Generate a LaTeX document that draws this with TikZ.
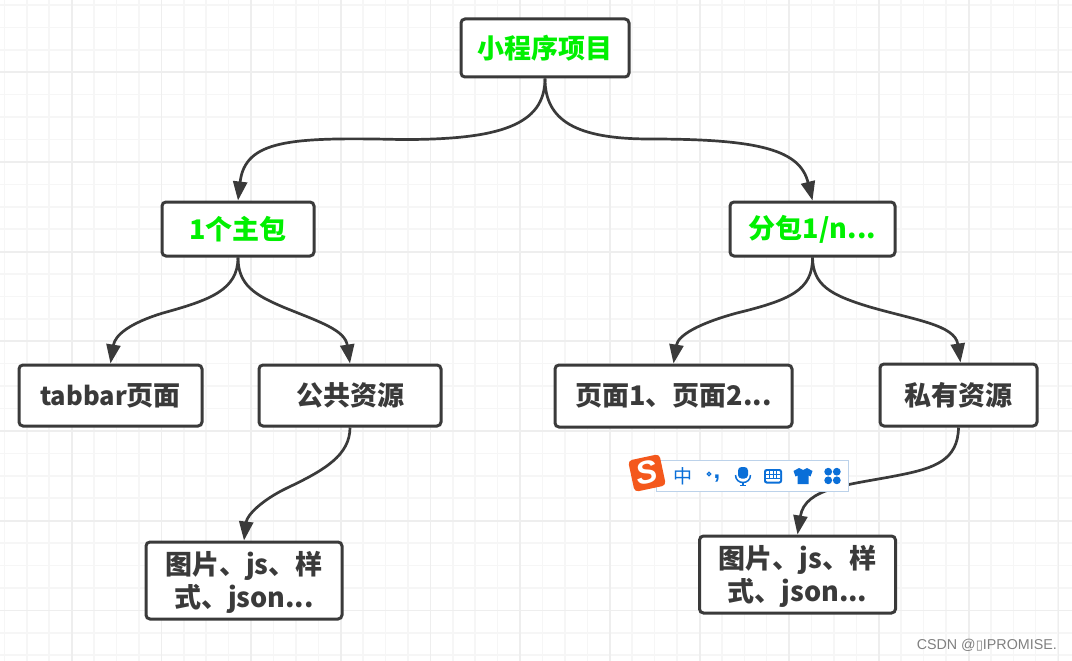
\documentclass[tikz,border=0pt]{standalone}
\usepackage{fontspec}
\usepackage{tikz}
\usetikzlibrary{arrows.meta}
\newfontfamily\cjk{Noto Sans CJK SC}
\newfontfamily\markfont{Liberation Sans}
\newfontfamily\symfont{DejaVu Sans}
\definecolor{inkgray}{HTML}{3A3A3A}
\definecolor{keygreen}{HTML}{00F000}
\definecolor{gridminor}{HTML}{F6F6F6}
\definecolor{gridmajor}{HTML}{EEEEEE}
\definecolor{imeblue}{HTML}{0A6FD8}
\definecolor{imeedge}{HTML}{BCD2EA}
\definecolor{imeorange}{HTML}{F4581C}

\begin{document}
\begin{tikzpicture}[
            x=1pt, y=-1pt,
            boxnode/.style={rectangle, draw=inkgray, line width=3pt, rounded corners=4pt, fill=white, inner sep=0pt, text=inkgray, align=center, font=\cjk\bfseries\fontsize{27}{31}\selectfont},
            keynode/.style={boxnode, text=keygreen},
            twolinenode/.style={boxnode, minimum width=196pt, minimum height=77pt},
            link/.style={draw=inkgray, line width=2.7pt, -{Triangle[length=19pt,width=14pt]}},
            gridminorline/.style={gridminor, line width=1.5pt},
            gridmajorline/.style={gridmajor, line width=1.8pt},
            imesign/.style={text=imeblue, inner sep=0pt}
          ]
          \useasboundingbox (0,0) rectangle (1072,661);
          \fill[white] (0,0) rectangle (1072,661);

          %Grid
          \foreach \i in {0,...,47} {
            \draw[gridminorline] (4.4+22.42*\i,0) -- (4.4+22.42*\i,661);
          }
          \foreach \i in {0,...,29} {
            \draw[gridminorline] (0,5+22.42*\i) -- (1072,5+22.42*\i);
          }
          \foreach \i in {0,...,11} {
            \draw[gridmajorline] (71.7+89.7*\i,0) -- (71.7+89.7*\i,661);
          }
          \foreach \i in {0,...,7} {
            \draw[gridmajorline] (0,72.2+89.7*\i) -- (1072,72.2+89.7*\i);
          }

          %Nodes
          \node[keynode, minimum width=168pt, minimum height=58pt] at (545,48) (root) {小程序项目};
          \node[keynode, minimum width=152pt, minimum height=54pt] at (238,229) (mainpkg) {1个主包};
          \node[keynode, minimum width=165pt, minimum height=54pt] at (812.5,229) (subpkg) {分包1/n...};
          \node[boxnode, minimum width=183pt, minimum height=61pt] at (110.5,395.5) (tabbar) {{\fontsize{25.5}{31}\selectfont tabbar}页面};
          \node[boxnode, minimum width=182pt, minimum height=61pt] at (350,395.5) (common) {公共资源};
          \node[boxnode, minimum width=237pt, minimum height=62pt] at (673.5,396) (pages) {页面1、页面2...};
          \node[boxnode, minimum width=157pt, minimum height=62pt] at (958.5,395) (private) {私有资源};
          \node[twolinenode] at (244,580.5) (assetsa) {\rule{0pt}{27pt}图片、js、样\\[2pt]式、json...};
          \node[twolinenode] at (797.5,574.5) (assetsb) {\rule{0pt}{27pt}图片、js、样\\[2pt]式、json...};

          %Lines
          \draw[link] (root.south) .. controls (545,125) and (500,140) .. (400,139.5) .. controls (290,137) and (245,140) .. (mainpkg.north);
          \draw[link] (root.south) .. controls (545,120) and (575,139) .. (650,139) .. controls (760,139) and (800,150) .. (subpkg.north);
          \draw[link] (mainpkg.south) .. controls (238,290) and (210,300) .. (163,313) .. controls (130,323) and (115,335) .. (tabbar.north);
          \draw[link] (mainpkg.south) .. controls (238,285) and (255,295) .. (283,307) .. controls (320,322) and (345,330) .. (common.north);
          \draw[link] (subpkg.south) .. controls (813,290) and (790,300) .. (737,313) .. controls (700,323) and (678,335) .. (pages.north);
          \draw[link] (subpkg.south) .. controls (813,285) and (830,295) .. (870,307) .. controls (915,320) and (955,325) .. ([xshift=2pt]private.north);
          \draw[link] (common.south) .. controls (350,455) and (325,470) .. (287,488) .. controls (262,500) and (247,515) .. (assetsa.north);
          \draw[link] (private.south) .. controls (958,460) and (935,468) .. (900,475) .. controls (850,485) and (805,487) .. (assetsb.north);

          %IME toolbar
          \node[draw=imeedge, line width=1pt, fill=white, minimum width=192pt, minimum height=31pt, inner sep=0pt] at (752,475.5) (imebar) {};
          \node[fill=imeorange, rounded corners=4pt, rotate=12, minimum size=32pt, inner sep=0pt, text=white, font=\markfont\bfseries\itshape\fontsize{32}{32}\selectfont] at (647,473) (imelogo) {S};
          \node[imesign, font=\cjk\fontsize{19}{19}\selectfont] at (682.5,476) (imezh) {中};
          \draw[imeblue, line width=1.2pt] (709,474) circle[radius=1.8];
          \node[imesign, font=\markfont\bfseries\fontsize{24}{24}\selectfont] at (717,479) (imepunct) {,};
          % microphone
          \fill[imeblue, rounded corners=3.5pt] (738,467) rectangle (748,478.5);
          \draw[imeblue, line width=1.5pt] (735.5,475) .. controls (735.5,485) and (750.5,485) .. (750.5,475);
          \fill[imeblue] (742,482) rectangle (744,485);
          \fill[imeblue] (740,484.5) rectangle (746,486);
          % keyboard
          \fill[imeblue, rounded corners=2.5pt] (764,469) rectangle (782,483.5);
          \fill[white, rounded corners=1pt] (766,471) rectangle (780,481.5);
          \foreach \i in {1,2,3} {
            \fill[imeblue] (766+3.5*\i-0.4,471) rectangle +(0.8,7);
          }
          \fill[imeblue] (766,474.2) rectangle (780,475);
          \fill[imeblue] (766,477.6) rectangle (780,478.4);
          % shirt
          \fill[imeblue] (799,468) -- (803,470) -- (807,468) -- (812.5,471) -- (810.5,476.5) -- (808.5,475.5) -- (808.5,484) -- (797.5,484) -- (797.5,475.5) -- (795.5,476.5) -- (793.5,471) -- cycle;
          % clover
          \foreach \a/\b in {-4.3/-4.3, 4.3/-4.3, -4.3/4.3, 4.3/4.3} {
            \fill[imeblue] (832.5+\a,476+\b) circle[radius=3.9];
          }

          %Labels
          \node[text=black!50, inner sep=0pt, anchor=east, font=\markfont\fontsize{14.3}{14.3}\selectfont] at (1057,645) (csdnmark) {CSDN @{\symfont\fontsize{13}{13}\selectfont ▯}IPROMISE.};
        \end{tikzpicture}
\end{document}
